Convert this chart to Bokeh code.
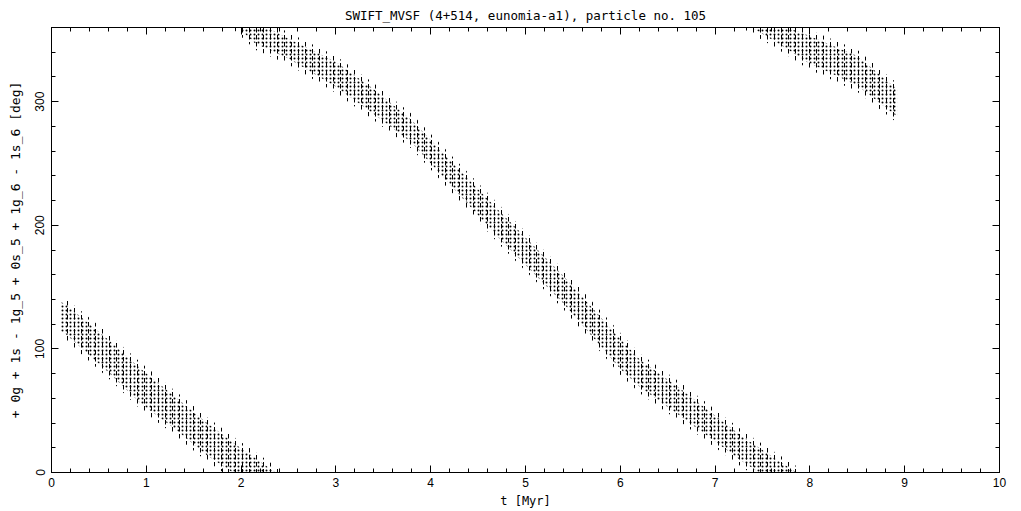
from bokeh.plotting import figure
from bokeh.models import LinearAxis, Range1d, FixedTicker
from bokeh.embed import file_html
from bokeh.resources import INLINE

# ---- data ----------------------------------------------------------------
# the resonant angle forms a scattered band; for each stretch of the band
# (between wrap-arounds at 0/360 deg) we keep its centre and half-thickness
seg_a_t = [0.10, 0.15, 0.59, 0.94, 1.29, 1.64, 1.99, 2.20, 2.40]
seg_a_c = [126, 124, 95, 70, 49, 27, 8, -3, -14]
seg_a_w = [12, 12, 13, 14, 13, 13, 12, 12, 12]

seg_b_t = [1.90, 2.15, 2.50, 3.00, 3.40, 3.80, 4.30, 4.73, 5.40, 6.00, 6.21, 6.63, 7.27, 7.60, 7.90]
seg_b_c = [375, 356, 343, 322, 300, 276, 235, 200, 148, 96, 80, 57, 20, 3, -12]
seg_b_w = [10, 9, 8, 10, 10, 9, 10, 11, 11, 12, 11, 11, 10, 10, 10]

seg_c_t = [7.30, 7.69, 7.97, 8.50, 8.92]
seg_c_c = [372, 354, 343, 325, 299]
seg_c_w = [8, 8, 11, 12, 11]

x_major = [0, 1, 2, 3, 4, 5, 6, 7, 8, 9, 10]
x_minor = [round(i * 0.2, 1) for i in range(51)]
y_major = [0, 100, 200, 300]
y_minor = list(range(0, 361, 20))

title = "SWIFT_MVSF (4+514, eunomia-a1), particle no. 105"
x_label = "t [Myr]"
y_label = "+ 0g + 1s - 1g_5 + 0s_5 + 1g_6 - 1s_6 [deg]"

FONT = "DejaVu Sans Mono"
TICK_FONT = "Liberation Sans"

p = figure(width=1019, height=510,
           x_range=Range1d(0, 10), y_range=Range1d(0, 360),
           output_backend="svg", toolbar_location=None,
           min_border_left=51, min_border_right=20,
           min_border_top=27, min_border_bottom=36)
p.grid.visible = False
p.outline_line_color = "black"
p.outline_line_width = 1
p.background_fill_color = "white"
p.border_fill_color = "white"

p.title.text = title
p.title.align = "center"
p.title.text_font = FONT
p.title.text_font_size = "12.5px"
p.title.text_font_style = "normal"
p.title.text_color = "black"
p.title.standoff = 10
p.title.offset = 0


def style_axis(ax, ticker, show_labels):
    ax.ticker = ticker
    ax.axis_line_color = "black"
    ax.major_tick_line_color = "black"
    ax.minor_tick_line_color = "black"
    ax.major_tick_in = 7
    ax.major_tick_out = 0
    ax.minor_tick_in = 4
    ax.minor_tick_out = 0
    ax.major_label_text_font = TICK_FONT
    ax.axis_label_text_font = FONT
    ax.axis_label_text_font_style = "normal"
    ax.axis_label_text_color = "black"
    if show_labels:
        ax.major_label_text_color = "black"
        ax.major_label_text_font_size = "12px"
        ax.axis_label_text_font_size = "13px"
    else:
        # tick marks only: labels are not painted
        ax.major_label_text_color = None
        ax.major_label_text_font_size = "1px"
        ax.major_label_standoff = 0


xt = FixedTicker(ticks=x_major, minor_ticks=x_minor)
yt = FixedTicker(ticks=y_major, minor_ticks=y_minor)

style_axis(p.xaxis[0], xt, True)
p.xaxis[0].axis_label = x_label
p.xaxis[0].axis_label_text_font_size = "12px"
p.xaxis[0].major_label_standoff = 5
p.xaxis[0].axis_label_standoff = 4

style_axis(p.yaxis[0], yt, True)
p.yaxis[0].axis_label = y_label
p.yaxis[0].major_label_orientation = "vertical"
p.yaxis[0].major_label_standoff = 7
p.yaxis[0].axis_label_standoff = 10

top = LinearAxis()
style_axis(top, FixedTicker(ticks=x_major, minor_ticks=x_minor), False)
p.add_layout(top, "above")
right = LinearAxis()
style_axis(right, FixedTicker(ticks=y_major, minor_ticks=y_minor), False)
p.add_layout(right, "right")

# ---- the scattered band ----------------------------------------------------
for t, c, w in ((seg_a_t, seg_a_c, seg_a_w),
                (seg_b_t, seg_b_c, seg_b_w),
                (seg_c_t, seg_c_c, seg_c_w)):
    lo = [ci - wi for ci, wi in zip(c, w)]
    hi = [ci + wi for ci, wi in zip(c, w)]
    lo2 = [ci - wi - 5 for ci, wi in zip(c, w)]
    hi2 = [ci + wi + 5 for ci, wi in zip(c, w)]
    # sparse fringe
    p.varea(x=t, y1=lo2, y2=hi2, fill_color=None, fill_alpha=0,
            hatch_pattern=":", hatch_scale=7, hatch_weight=1, hatch_color="black")
    # dense core
    p.varea(x=t, y1=lo, y2=hi, fill_color=None, fill_alpha=0,
            hatch_pattern=".", hatch_scale=4, hatch_weight=1, hatch_color="black")

open("out.html", "w").write(file_html(p, INLINE))
